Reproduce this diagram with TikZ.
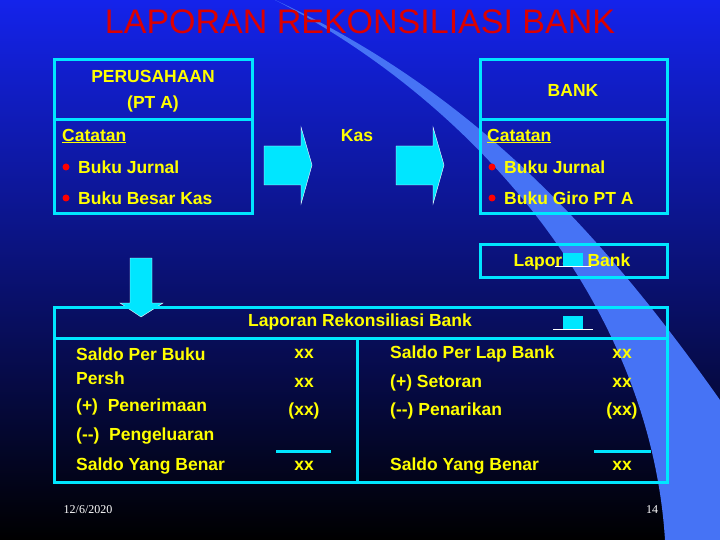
\documentclass[tikz,border=0pt]{standalone}
\usepackage{fontspec}
\setmainfont{Liberation Sans}
\usetikzlibrary{positioning}
\definecolor{bgblue}{RGB}{20,35,235}
\definecolor{swoosh}{RGB}{70,115,245}
\definecolor{boxline}{RGB}{0,230,255}
\definecolor{txtyellow}{RGB}{255,255,0}
\definecolor{titlered}{RGB}{220,0,0}
\tikzset{
  frame/.style={draw=boxline, line width=3pt},
  txt/.style={text=txtyellow, font=\bfseries\fontsize{17.5}{19}\selectfont, inner sep=0pt},
  lefttxt/.style={txt, anchor=west},
  bullet/.style={circle, fill=red, inner sep=0pt, minimum size=7pt},
  bigarrow/.style={fill=boxline, draw=white, line width=0.4pt},
}
\begin{document}
\begin{tikzpicture}[x=1pt,y=-1pt]
        % background and swoosh
        \shade[left color=bgblue, right color=black, shading angle=0] (0,0) rectangle (720,540);
        \useasboundingbox (0,0) rectangle (720,540);
        \fill[swoosh] (275,0) .. controls (470,100) and (650,300) .. (665,540) -- (720,540) -- (720,400) .. controls (600,230) and (470,90) .. (275,0) -- cycle;
        % title
        \node[text=titlered, font=\fontsize{34}{36}\selectfont, inner sep=0pt] (title) at (360,22) {LAPORAN REKONSILIASI BANK};
        % company box
        \draw[frame] (54,60) rectangle (252,120);
        \draw[frame] (54,120) rectangle (252,214);
        \node[txt] (pers) at (153,76) {PERUSAHAAN};
        \node[txt] (pta) at (153,104) {(PT A)};
        \node[lefttxt] (catL) at (62,136) {\underline{Catatan}};
        \node[bullet] (bL1) at (66,167) {};
        \node[lefttxt] (jurL) at (78,167) {Buku Jurnal};
        \node[bullet] (bL2) at (66,198) {};
        \node[lefttxt] (besL) at (78,198) {Buku Besar Kas};
        % bank box
        \draw[frame] (480,60) rectangle (667,120);
        \draw[frame] (480,120) rectangle (667,214);
        \node[txt] (bank) at (573,90) {BANK};
        \node[lefttxt] (catR) at (487,136) {\underline{Catatan}};
        \node[bullet] (bR1) at (492,167) {};
        \node[lefttxt] (jurR) at (504,167) {Buku Jurnal};
        \node[bullet] (bR2) at (492,198) {};
        \node[lefttxt] (giroR) at (504,198) {Buku Giro PT A};
        % kas and arrows
        \node[txt] (kas) at (357,136) {Kas};
        \foreach \ax in {264,396}
          \draw[bigarrow] (\ax,146) -- (\ax+37,146) -- (\ax+37,127) -- (\ax+48,165) -- (\ax+37,204) -- (\ax+37,185) -- (\ax,185) -- cycle;
        % bank statement
        \draw[frame] (480,244) rectangle (667,277);
        \node[txt] (lapbank) at (572,262) {Laporan Bank};
        \fill[boxline] (563,253) rectangle (583,266);
        \draw[white, line width=0.5pt] (555,266) -- (591,266);
        % down arrow
        \draw[bigarrow] (130,258) -- (152,258) -- (152,303) -- (163,303) -- (141,317) -- (120,303) -- (130,303) -- cycle;
        % reconciliation table
        \draw[frame] (54,307) rectangle (667,482);
        \draw[frame] (54,338) -- (667,338);
        \draw[frame] (357,338) -- (357,482);
        \node[txt] (recon) at (360,322) {Laporan Rekonsiliasi Bank};
        \fill[boxline] (563,316) rectangle (583,329);
        \draw[white, line width=0.5pt] (553,329) -- (593,329);
        % left side
        \node[lefttxt] (saldoBuku) at (76,354) {Saldo Per Buku};
        \node[lefttxt] (persh) at (76,378) {Persh};
        \node[lefttxt] (terima) at (76,407) {(+)\ \ Penerimaan};
        \node[lefttxt] (keluar) at (76,436) {(-{}-)\ \ Pengeluaran};
        \node[lefttxt] (benarL) at (76,466) {Saldo Yang Benar};
        \node[txt] (xL1) at (304,354) {xx};
        \node[txt] (xL2) at (304,383) {xx};
        \node[txt] (xL3) at (304,411) {(xx)};
        \node[txt] (xL4) at (304,466) {xx};
        \draw[boxline, line width=3pt] (276,451) -- (331,451);
        % right side
        \node[lefttxt] (saldoLap) at (390,354) {Saldo Per Lap Bank};
        \node[lefttxt] (setor) at (390,383) {(+) Setoran};
        \node[lefttxt] (tarik) at (390,411) {(-{}-) Penarikan};
        \node[lefttxt] (benarR) at (390,466) {Saldo Yang Benar};
        \node[txt] (xR1) at (622,354) {xx};
        \node[txt] (xR2) at (622,383) {xx};
        \node[txt] (xR3) at (622,411) {(xx)};
        \node[txt] (xR4) at (622,466) {xx};
        \draw[boxline, line width=3pt] (594,451) -- (651,451);
        % footer
        \node[text=white, font=\fontspec{Liberation Serif}\fontsize{12}{14}\selectfont, inner sep=0pt] (date) at (88,510) {12/6/2020};
        \node[text=white, font=\fontspec{Liberation Serif}\fontsize{12}{14}\selectfont, inner sep=0pt] (page) at (652,510) {14};
\end{tikzpicture}
\end{document}
